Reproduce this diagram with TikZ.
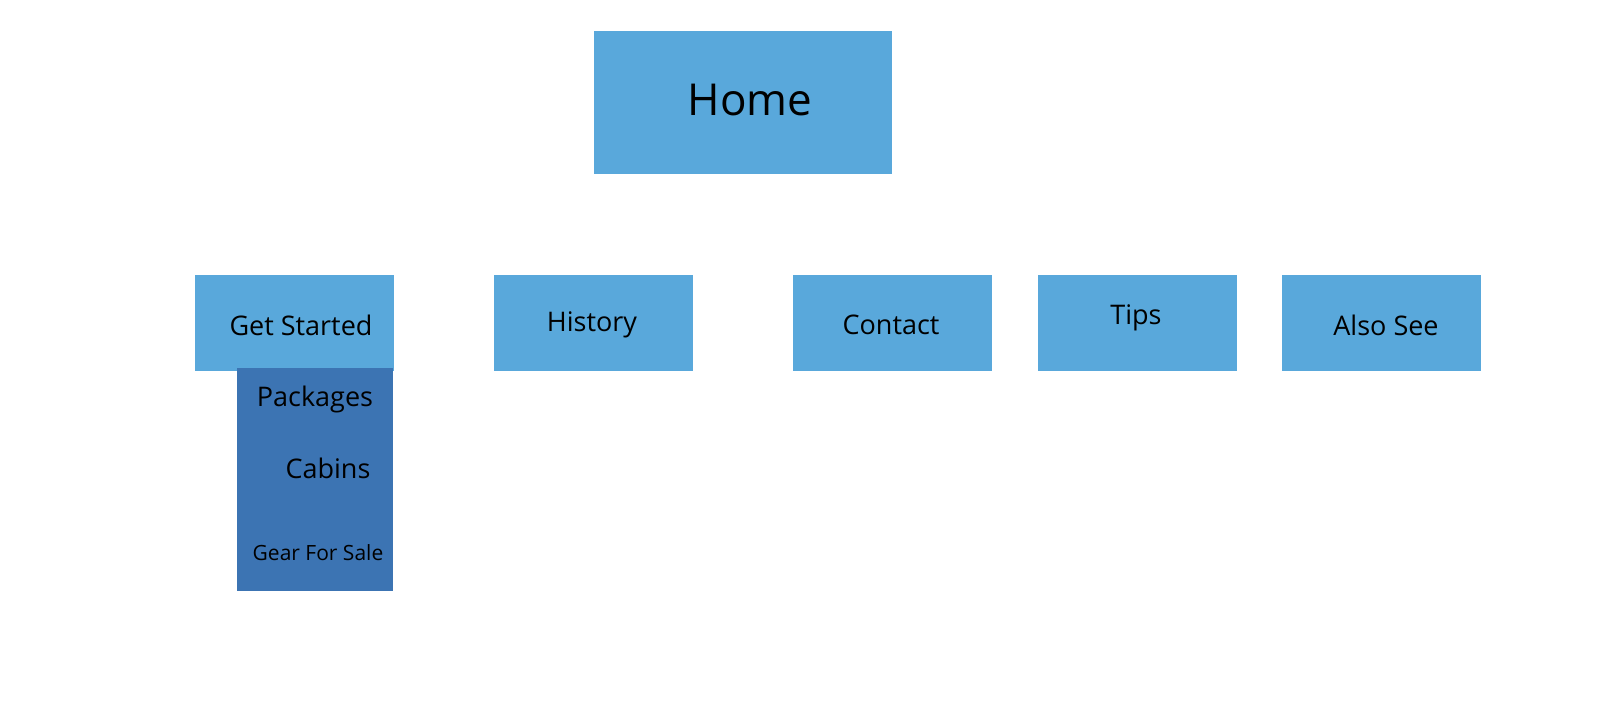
\documentclass[tikz,border=0pt]{standalone}
\usepackage{fontspec}
\setmainfont{Open Sans}
\definecolor{lb}{HTML}{59A8DB}
\definecolor{db}{HTML}{3C74B3}
\begin{document}%
\begin{tikzpicture}[x=1pt,y=-1pt,
  box/.style={fill=lb,draw=none,minimum width=199pt,minimum height=96pt,inner sep=0pt,anchor=north west},
  lbl/.style={font=\fontsize{27}{30}\selectfont,inner sep=0pt}]
\useasboundingbox (0,0) rectangle (1608,712);
\node[box,minimum width=298pt,minimum height=143pt] (home) at (594,31) {};
\node[lbl,font=\fontsize{44}{50}\selectfont] (homet) at (750,100) {Home};
\node[box] (gs) at (195,275) {};
\node[box] (hi) at (494,275) {};
\node[box] (co) at (793,275) {};
\node[box] (ti) at (1038,275) {};
\node[box] (as) at (1282,275) {};
\node[fill=db,minimum width=156pt,minimum height=223pt,inner sep=0pt,anchor=north west] (sub) at (237,368) {};
\node[lbl] (gst) at (301,325) {Get Started};
\node[lbl] (hit) at (592,325) {History};
\node[lbl] (cot) at (891,325) {Contact};
\node[lbl] (tit) at (1136,318) {Tips};
\node[lbl] (ast) at (1386,325) {Also See};
\node[lbl] (pk) at (315,399) {Packages};
\node[lbl] (cb) at (328,468) {Cabins};
\node[lbl,font=\fontsize{21}{24}\selectfont] (gr) at (318,553) {Gear For Sale};
\end{tikzpicture}%
\end{document}
